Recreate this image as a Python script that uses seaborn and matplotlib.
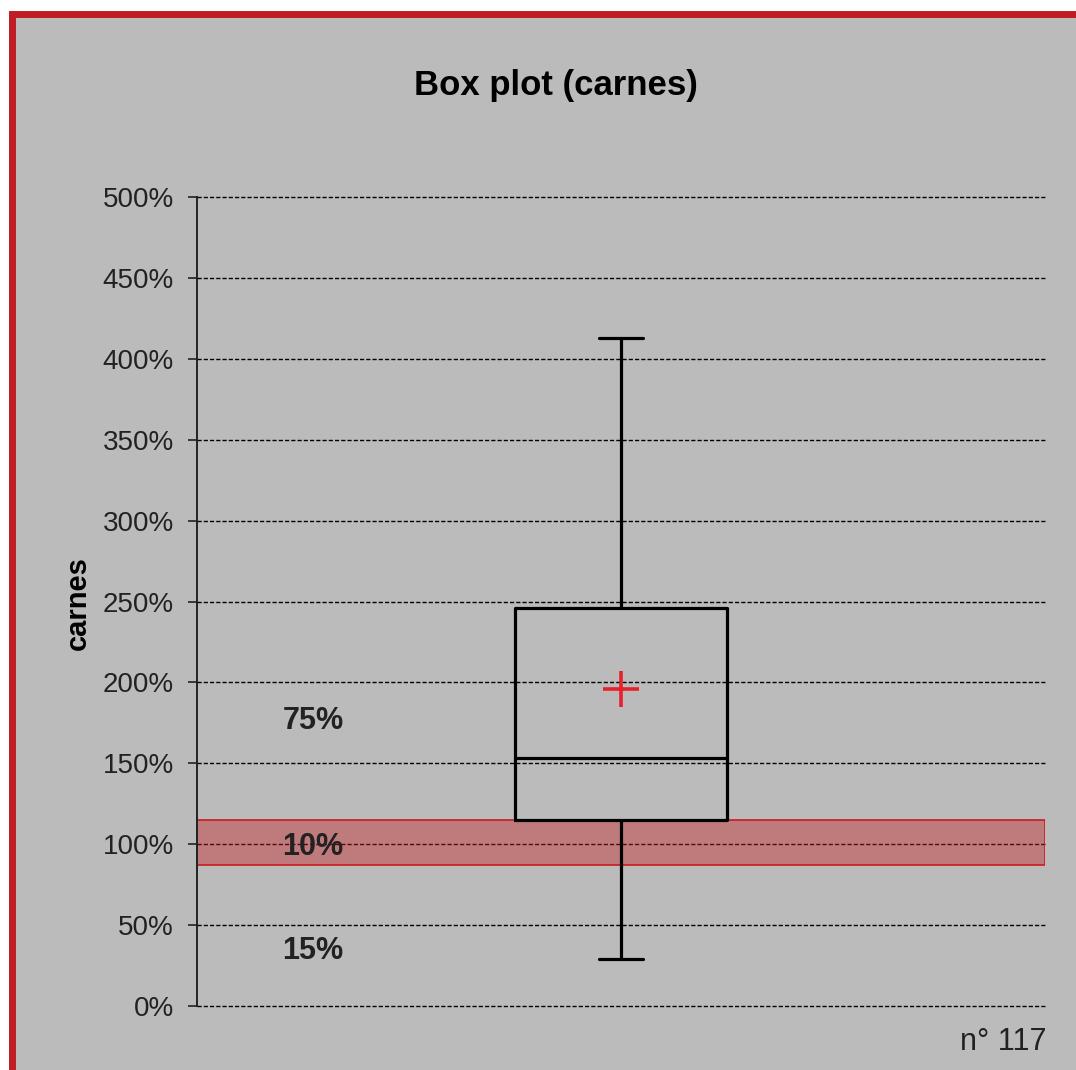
import matplotlib
matplotlib.use("Agg")
import matplotlib.pyplot as plt
from matplotlib.patches import Rectangle
from matplotlib.ticker import FuncFormatter
import seaborn as sns
import numpy as np

# Five-number summary of the "carnes" series (in %)
summary_values = [29, 115, 153, 246, 413]   # min, Q1, median, Q3, max
mean_value = [196]
band_range = [87, 115]                      # highlighted reference band
share_labels = ["75%", "10%", "15%"]
share_label_y = [176, 98, 34]
y_ticks = [0, 50, 100, 150, 200, 250, 300, 350, 400, 450, 500]
title_text = "Box plot (carnes)"
y_label = "carnes"
chart_number = "n° 117"

sns.set_theme(style="white")
plt.rcParams["font.family"] = ["Liberation Sans", "DejaVu Sans"]

GRAY = "#bbbbbb"
BORDER = "#c01c24"

fig = plt.figure(figsize=(10.76, 10.70), dpi=100, facecolor="white")

# framed gray panel with red edge on top and left
panel = Rectangle((12 / 1076, -0.05), 1.2, 1 - 13.5 / 1070 + 0.05,
                  transform=fig.transFigure, facecolor=GRAY,
                  edgecolor=BORDER, linewidth=5.0, zorder=-5)
fig.patches.append(panel)

ax = fig.add_axes([197 / 1076, 1 - 1006 / 1070, 848 / 1076, 809 / 1070])
ax.set_facecolor("none")
ax.set_zorder(1)

# dashed horizontal grid
for t in y_ticks:
    ax.axhline(t, color="black", linewidth=1.0, linestyle=(0, (3, 1.5)),
               zorder=1, clip_on=False)

# reference band
ax.axhspan(band_range[0], band_range[1], facecolor=(0.78, 0.10, 0.12, 0.40),
           edgecolor=(0.80, 0.10, 0.12, 1.0), linewidth=1.2, zorder=2)

sns.boxplot(y=summary_values, whis=(0, 100), width=0.25, fill=False,
            color="black", linewidth=2.3, capwidths=0.053, ax=ax, zorder=3)
for line in ax.lines[len(y_ticks):]:
    line.set_color("black")

sns.scatterplot(x=[0], y=mean_value, marker="+", s=700, color="#e8202a",
                linewidth=2.6, ax=ax, zorder=5)

for txt, yv in zip(share_labels, share_label_y):
    ax.text(-0.363, yv, txt, ha="center", va="center", fontsize=22,
            fontweight="bold", color="#222222", zorder=6)

ax.set_xlim(-0.5, 0.5)
ax.set_ylim(0, 500)
ax.set_yticks(y_ticks)
ax.yaxis.set_major_formatter(FuncFormatter(lambda v, _: f"{int(v)}%"))
ax.set_xticks([])
ax.set_xlabel("")
ax.set_ylabel("")
ax.tick_params(axis="y", left=True, length=6.5, width=1.2, color="#222222",
               pad=10, labelsize=20, labelcolor="#222222")
for lab in ax.get_yticklabels():
    lab.set_family(["Liberation Sans Narrow", "Liberation Sans", "DejaVu Sans"])
for side in ["top", "right", "bottom"]:
    ax.spines[side].set_visible(False)
ax.spines["left"].set_color("#222222")
ax.spines["left"].set_linewidth(1.4)

fig.text(556 / 1076, 1 - 85 / 1070, title_text, ha="center", va="center",
         fontsize=25, fontweight="bold", color="black")
fig.text(78 / 1076, 1 - 603 / 1070, y_label, ha="center", va="center",
         rotation=90, fontsize=21, fontweight="bold", color="black")
fig.text(1047 / 1076, 1 - 1050 / 1070, chart_number, ha="right",
         va="baseline", fontsize=22, color="#222222")

fig.savefig("out.png", dpi=100, facecolor="white")
